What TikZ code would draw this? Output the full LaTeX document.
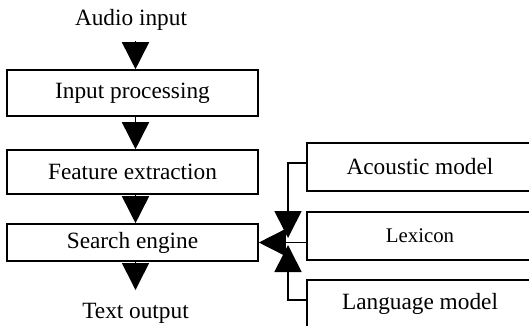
\documentclass[tikz,border=0pt]{standalone}
\usepackage{fontspec}
\setmainfont{Liberation Serif}
\usetikzlibrary{arrows.meta,calc}
\begin{document}
\begin{tikzpicture}[x=1pt,y=-1pt,line width=1.6pt,
  every node/.style={font=\fontsize{23.3}{28}\selectfont},
  lbox/.style={draw,inner sep=0pt,minimum width=251pt},
  rbox/.style={draw,inner sep=0pt,minimum width=226pt,minimum height=48pt},
  arr/.style={-{Triangle[width=27pt,length=27pt]}}]
\clip (0,0) rectangle (529,325);
% left column
\node (audio) at (131,20) {Audio input};
\node[lbox,minimum height=46pt] (ip) at (132.5,93) {Input processing};
\node[lbox,minimum height=44pt] (fe) at (132.5,172) {Feature extraction};
\node[lbox,minimum height=37pt] (se) at (132.5,242.5) {Search engine};
\node (out) at (135.5,313) {Text output};
\coordinate (a1) at (135.5,41);
\coordinate (a4) at (135.5,290);
\draw[arr] (a1) -- (a1 |- ip.north);
\draw[arr] ([xshift=3pt]ip.south) -- ([xshift=3pt]fe.north);
\draw[arr] ([xshift=3pt]fe.south) -- ([xshift=3pt]se.north);
\draw[arr] ([xshift=3pt]se.south) -- (a4);
% right column
\node[rbox] (ac) at (420,167) {Acoustic model};
\node[rbox,font=\fontsize{20.8}{25}\selectfont] (lex) at (420,236) {Lexicon};
\node[rbox] (lang) at (420,304) {Language model};
\coordinate (btop) at (288,238);
\coordinate (bbot) at (288,245);
\draw[arr] ([yshift=4pt]ac.west) -| (btop);
\draw[arr] ([yshift=4pt]lang.west) -| (bbot);
\draw[arr] (lex.west |- se.east) -- (se.east);
\end{tikzpicture}
\end{document}
